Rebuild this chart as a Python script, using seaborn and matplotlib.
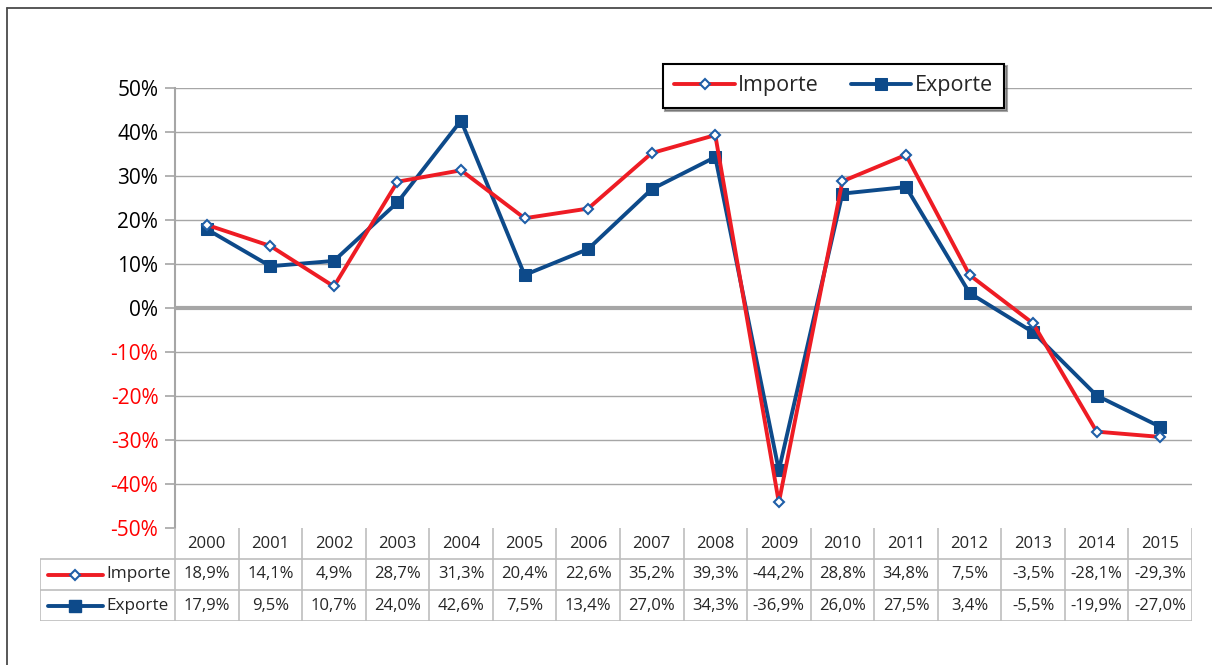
import matplotlib
matplotlib.use("Agg")
import matplotlib.pyplot as plt
import matplotlib.transforms as mtransforms
from matplotlib.lines import Line2D
import seaborn as sns
import pandas as pd

# --- dados ---
anos = list(range(2000, 2016))
importe = [18.9, 14.1, 4.9, 28.7, 31.3, 20.4, 22.6, 35.2, 39.3, -44.2, 28.8, 34.8, 7.5, -3.5, -28.1, -29.3]
exporte = [17.9, 9.5, 10.7, 24.0, 42.6, 7.5, 13.4, 27.0, 34.3, -36.9, 26.0, 27.5, 3.4, -5.5, -19.9, -27.0]
series = ["Importe", "Exporte"]
yticks = list(range(-50, 51, 10))

df = pd.DataFrame({"ano": anos, "Importe": importe, "Exporte": exporte})

sns.set_style("white")
plt.rcParams["font.family"] = ["Open Sans", "DejaVu Sans"]

VERMELHO = "#ee1c24"
AZUL = "#0d4a8a"
AZUL_BORDA = "#1f5fa8"
CINZA = "#a6a6a6"
CINZA_TAB = "#bdbdbd"

W, H = 1212, 665
def caixa(x0, y0, x1, y1):
    return [x0 / W, 1 - y1 / H, (x1 - x0) / W, (y1 - y0) / H]

fig = plt.figure(figsize=(W / 100, H / 100), dpi=100)
ax = fig.add_axes(caixa(175, 88, 1192, 528))
tab = fig.add_axes(caixa(40, 528, 1192, 621))

# moldura
fig.add_artist(Line2D([7 / W, 1], [1 - 8 / H, 1 - 8 / H], color="#4a4a4a", lw=1.3))
fig.add_artist(Line2D([7 / W, 7 / W], [0, 1 - 8 / H], color="#4a4a4a", lw=1.3))

# --- linhas ---
estilo_imp = dict(color=VERMELHO, lw=2.8, marker="D", markersize=5,
                  markerfacecolor="white", markeredgecolor=AZUL_BORDA, markeredgewidth=1.5)
estilo_exp = dict(color=AZUL, lw=2.8, marker="s", markersize=8,
                  markerfacecolor=AZUL, markeredgecolor=AZUL)
sns.lineplot(data=df, x="ano", y="Exporte", ax=ax, label="Exporte", zorder=3, **estilo_exp)
sns.lineplot(data=df, x="ano", y="Importe", ax=ax, label="Importe", zorder=4, **estilo_imp)

ax.set_xlim(anos[0] - 0.5, anos[-1] + 0.5)
ax.set_ylim(-50, 50)
ax.set_yticks(yticks)
ax.set_yticklabels([f"{v}%" for v in yticks], fontsize=15)
for lab, v in zip(ax.get_yticklabels(), yticks):
    lab.set_color("#ff0000" if v < 0 else "black")
ax.set_xticks([])
ax.set_xlabel("")
ax.set_ylabel("")
for v in yticks:
    if v == 0:
        ax.axhline(0, color=CINZA, lw=3, zorder=1)
    elif v != -50:
        ax.axhline(v, color=CINZA, lw=1, zorder=1)
for s in ["top", "right", "bottom"]:
    ax.spines[s].set_visible(False)
ax.spines["left"].set_color(CINZA)
ax.spines["left"].set_linewidth(1.5)
ax.tick_params(axis="y", length=7, width=1.2, color=CINZA, pad=5, left=True)

h, l = ax.get_legend_handles_labels()
ordem = [l.index(s) for s in series]
leg = ax.legend([h[i] for i in ordem], [l[i] for i in ordem], ncol=2, loc="center",
                bbox_to_anchor=((660 + 1007) / 2 / W, 1 - 86 / H), bbox_transform=fig.transFigure,
                fontsize=15.5, frameon=True, fancybox=False, shadow=True, handlelength=2.8,
                handletextpad=0.15, columnspacing=1.5, borderpad=0.55)
leg.get_frame().set_edgecolor("black")
leg.get_frame().set_linewidth(1.5)

# --- tabela ---
x_esq = anos[0] - 0.5 - 135 / (1017 / 16)
tab.set_xlim(x_esq, anos[-1] + 0.5)
tab.set_ylim(0, 3)
tab.axis("off")
kw = dict(color=CINZA_TAB, lw=1.2, solid_capstyle="butt")
for i in range(len(anos) + 1):
    tab.plot([anos[0] - 0.5 + i] * 2, [0, 3], **kw)
tab.plot([x_esq, x_esq], [0, 2], **kw)
for y in [0, 1, 2]:
    tab.plot([x_esq, anos[-1] + 0.5], [y, y], **kw)

def fmt(v):
    return f"{v:.1f}%".replace(".", ",")

FS = 12
for a in anos:
    tab.text(a, 2.5, str(a), ha="center", va="center", fontsize=FS)
for a, vi, ve in zip(anos, importe, exporte):
    tab.text(a, 1.5, fmt(vi), ha="center", va="center", fontsize=FS)
    tab.text(a, 0.5, fmt(ve), ha="center", va="center", fontsize=FS)

trans = mtransforms.blended_transform_factory(tab.transAxes, tab.transData)
for y, nome, est in [(1.5, "Importe", estilo_imp), (0.5, "Exporte", estilo_exp)]:
    tab.plot([8 / 1152, 63 / 1152], [y, y], transform=trans, color=est["color"], lw=est["lw"])
    tab.plot([35 / 1152], [y], transform=trans, **{k: v for k, v in est.items() if k not in ("lw",)})
    tab.text(66 / 1152, y, nome, transform=trans, ha="left", va="center", fontsize=FS + 0.3)

fig.savefig("out.png", dpi=100)
